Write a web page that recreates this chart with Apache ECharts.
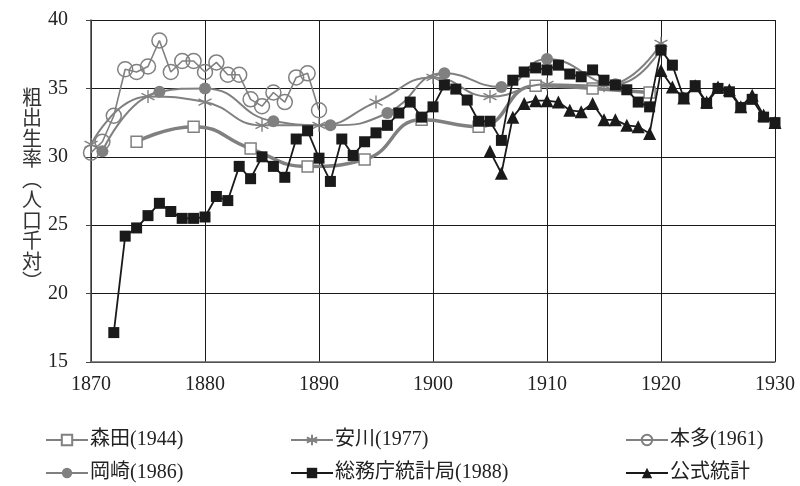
<!DOCTYPE html>
<html>
<head>
<meta charset="utf-8">
<script src="https://cdn.jsdelivr.net/npm/echarts@6/dist/echarts.min.js"></script>
<style>
html,body{margin:0;padding:0;background:#fff;}
#chart{width:800px;height:486px;}
</style>
</head>
<body>
<div id="chart"></div>
<script>
// ---- data ----
const xTicks = [1870, 1880, 1890, 1900, 1910, 1920, 1930];
const yTicks = [15, 20, 25, 30, 35, 40];

const moritaYears = [1874, 1879, 1884, 1889, 1894, 1899, 1904, 1909, 1914, 1919];
const morita      = [31.1, 32.2, 30.6, 29.3, 29.8, 32.7, 32.2, 35.2, 35.0, 34.7];

const yasukawaYears = [1870, 1875, 1880, 1885, 1890, 1895, 1900, 1905, 1910, 1915, 1920];
const yasukawa      = [30.9, 34.4, 34.0, 32.3, 32.3, 34.0, 35.8, 34.4, 35.3, 35.2, 38.3];

const hondaYears = [1870, 1871, 1872, 1873, 1874, 1875, 1876, 1877, 1878, 1879, 1880,
                    1881, 1882, 1883, 1884, 1885, 1886, 1887, 1888, 1889, 1890];
const honda      = [30.3, 31.1, 33.0, 36.4, 36.2, 36.6, 38.5, 36.2, 37.0, 37.0, 36.2,
                    36.9, 36.0, 36.0, 34.2, 33.7, 34.7, 34.0, 35.8, 36.1, 33.4];

const okazakiYears = [1871, 1876, 1880, 1886, 1891, 1896, 1901, 1906, 1910, 1916, 1920];
const okazaki      = [30.4, 34.75, 35.0, 32.6, 32.3, 33.2, 36.1, 35.1, 37.15, 35.3, 37.9];

const somuchoStart = 1872;
const somucho = [17.15, 24.2, 24.8, 25.7, 26.6, 26.0, 25.5, 25.5, 25.6, 27.1,
                 26.8, 29.3, 28.4, 30.0, 29.3, 28.5, 31.3, 31.9, 29.9, 28.2,
                 31.3, 30.1, 31.1, 31.75, 32.3, 33.2, 34.0, 32.9, 33.65, 35.25,
                 34.95, 34.15, 32.6, 32.6, 31.2, 35.6, 36.2, 36.5, 36.35, 36.7,
                 36.05, 35.85, 36.35, 35.6, 35.25, 34.9, 34.0, 33.65, 37.8, 36.7,
                 34.3, 35.2, 33.9, 35.0, 34.75, 33.6, 34.2, 32.9, 32.5];

const koshikiStart = 1905;
const koshiki = [30.4, 28.8, 32.9, 33.9, 34.1, 34.1, 34.0, 33.4, 33.3, 33.9,
                 32.7, 32.7, 32.3, 32.2, 31.7, 36.3, 35.1, 34.3, 35.2, 34.0,
                 35.1, 34.9, 33.65, 34.5, 33.05, 32.5];

const seriesNames = ['森田(1944)', '安川(1977)', '本多(1961)', '岡崎(1986)', '総務庁統計局(1988)', '公式統計'];
const yTitle = ['粗', '出', '生', '率', '︵', '人', '口', '千', '対', '︶'];

// ---- build ----
function pairs(xs, ys) { return ys.map((v, i) => [xs[i], v]); }
function fromStart(start, ys) { return ys.map((v, i) => [start + i, v]); }

const GRAY = '#808080';
const BLACK = '#1a1a1a';
const FONT = '"Liberation Serif", "Noto Sans CJK JP", serif';
const asterisk = 'path://M5,0L5,10M0.7,2.5L9.3,7.5M0.7,7.5L9.3,2.5';

const chart = echarts.init(document.getElementById('chart'), null, {renderer: 'canvas'});

const legendPos = [
  {left: 40, top: 425}, {left: 285, top: 425}, {left: 620, top: 425},
  {left: 40, top: 458}, {left: 285, top: 458}, {left: 620, top: 458}
];

const option = {
  animation: false,
  backgroundColor: '#fff',
  grid: {left: 91, right: 25, top: 20, bottom: 124},
  xAxis: {
    type: 'value', min: xTicks[0], max: xTicks[xTicks.length - 1], interval: 10,
    axisLine: {show: true, lineStyle: {color: '#666', width: 1.5}},
    axisTick: {show: false},
    splitLine: {show: true, lineStyle: {color: BLACK, width: 1}},
    axisLabel: {color: '#222', fontFamily: FONT, fontSize: 20, margin: 13,
                formatter: v => String(v)}
  },
  yAxis: {
    type: 'value', min: yTicks[0], max: yTicks[yTicks.length - 1], interval: 5,
    axisLine: {show: true, lineStyle: {color: '#444', width: 1.5}},
    axisTick: {show: true, inside: false, length: 5, lineStyle: {color: '#444'}},
    splitLine: {show: true, lineStyle: {color: BLACK, width: 1}},
    axisLabel: {color: '#222', fontFamily: FONT, fontSize: 20, margin: 23}
  },
  legend: legendPos.map((p, i) => ({
    data: [seriesNames[i]], left: p.left, top: p.top,
    itemWidth: 42, itemHeight: 13, itemGap: 4,
    textStyle: {fontFamily: FONT, fontSize: 20, color: '#222', padding: [0, 0, 0, -3]}
  })),
  graphic: [{
    type: 'text', left: 22, top: 87,
    style: {text: yTitle.join('\n'), fontFamily: '"Noto Sans CJK JP"', fontSize: 20,
            lineHeight: 20.5, fill: '#333', align: 'center'}
  }],
  series: [
    {
      name: seriesNames[0], type: 'line', smooth: 0.5, data: pairs(moritaYears, morita),
      symbol: 'rect', symbolSize: 11,
      lineStyle: {color: GRAY, width: 3.5},
      itemStyle: {color: '#fff', borderColor: GRAY, borderWidth: 1.5},
      z: 2
    },
    {
      name: seriesNames[1], type: 'line', smooth: 0.5, data: pairs(yasukawaYears, yasukawa),
      symbol: asterisk, symbolSize: 13,
      lineStyle: {color: GRAY, width: 2},
      itemStyle: {color: GRAY, borderColor: GRAY, borderWidth: 1.4},
      z: 3
    },
    {
      name: seriesNames[2], type: 'line', smooth: false, data: pairs(hondaYears, honda),
      symbol: 'circle', symbolSize: 15,
      lineStyle: {color: GRAY, width: 1.6},
      itemStyle: {color: 'rgba(255,255,255,0)', borderColor: GRAY, borderWidth: 1.5},
      z: 4
    },
    {
      name: seriesNames[3], type: 'line', smooth: 0.5, data: pairs(okazakiYears, okazaki),
      symbol: 'circle', symbolSize: 12,
      lineStyle: {color: GRAY, width: 2},
      itemStyle: {color: GRAY, borderColor: GRAY, borderWidth: 0},
      z: 5
    },
    {
      name: seriesNames[4], type: 'line', smooth: false, data: fromStart(somuchoStart, somucho),
      symbol: 'rect', symbolSize: 11,
      lineStyle: {color: BLACK, width: 1.8},
      itemStyle: {color: BLACK, borderWidth: 0},
      z: 6
    },
    {
      name: seriesNames[5], type: 'line', smooth: false, data: fromStart(koshikiStart, koshiki),
      symbol: 'triangle', symbolSize: 13,
      lineStyle: {color: BLACK, width: 1.8},
      itemStyle: {color: BLACK, borderWidth: 0},
      z: 7
    }
  ]
};
chart.setOption(option);
</script>
</body>
</html>
